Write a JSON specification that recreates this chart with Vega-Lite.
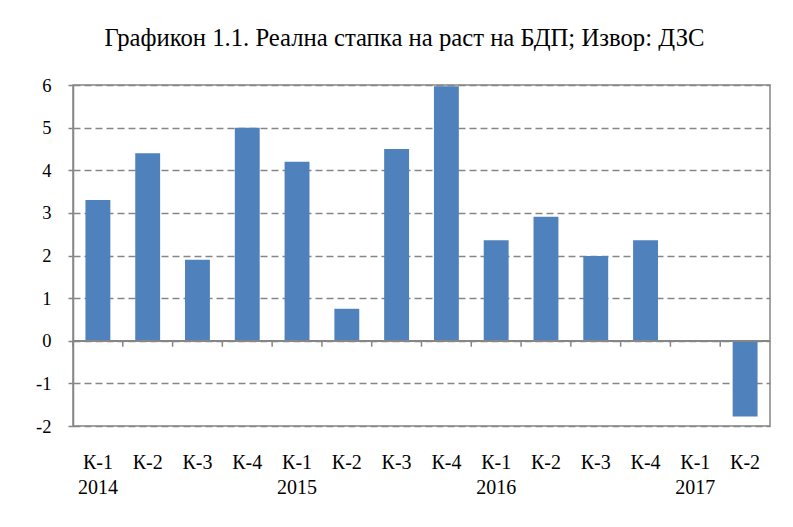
{
  "$schema": "https://vega.github.io/schema/vega-lite/v6.json",
  "autosize": "none",
  "width": 697,
  "height": 341,
  "padding": {"left": 73, "top": 85, "right": 23, "bottom": 101},
  "background": "white",
  "title": {
    "text": "Графикон 1.1. Реална стапка на раст на БДП; Извор: ДЗС",
    "font": "Liberation Serif",
    "fontSize": 24.7,
    "fontWeight": "normal",
    "color": "black",
    "anchor": "middle",
    "dx": -17,
    "offset": 25
  },
  "data": {
    "values": [
      {"id": "2014 К-1", "v": 3.3},
      {"id": "2014 К-2", "v": 4.4},
      {"id": "2014 К-3", "v": 1.9},
      {"id": "2014 К-4", "v": 5.0},
      {"id": "2015 К-1", "v": 4.2},
      {"id": "2015 К-2", "v": 0.75},
      {"id": "2015 К-3", "v": 4.5},
      {"id": "2015 К-4", "v": 5.97},
      {"id": "2016 К-1", "v": 2.36},
      {"id": "2016 К-2", "v": 2.91},
      {"id": "2016 К-3", "v": 1.99},
      {"id": "2016 К-4", "v": 2.36},
      {"id": "2017 К-1", "v": 0},
      {"id": "2017 К-2", "v": -1.78}
    ]
  },
  "layer": [
    {
      "mark": {"type": "bar", "color": "#4f81bd"},
      "encoding": {
        "x": {
          "field": "id",
          "type": "nominal",
          "sort": null,
          "scale": {"paddingInner": 0.5, "paddingOuter": 0.25},
          "axis": {
            "title": null,
            "orient": "bottom",
            "labelAngle": 0,
            "labelExpr": "slice(datum.value,5)=='К-1' ? ['К-1', slice(datum.value,0,4)] : slice(datum.value,5)",
            "labelFont": "Liberation Serif",
            "labelFontSize": 20,
            "labelColor": "black",
            "labelBaseline": "top",
            "labelLineHeight": 25,
            "labelPadding": 26,
            "domain": false,
            "ticks": false,
            "grid": false
          }
        },
        "y": {
          "field": "v",
          "type": "quantitative",
          "scale": {"domain": [-2, 6], "nice": false, "zero": false},
          "axis": {
            "title": null,
            "orient": "left",
            "values": [-2, -1, 0, 1, 2, 3, 4, 5, 6],
            "labelExpr": "toString(datum.value)",
            "labelFont": "Liberation Serif",
            "labelFontSize": 18.5,
            "labelColor": "black",
            "labelPadding": 17,
            "domainColor": "#868686",
            "domainWidth": 1.5,
            "tickColor": "#868686",
            "tickWidth": 1.5,
            "tickSize": 5,
            "grid": true,
            "gridColor": "#868686",
            "gridWidth": 1.5,
            "gridDash": [7, 4]
          }
        }
      }
    },
    {
      "mark": {"type": "rule", "color": "#868686", "strokeWidth": 1.5},
      "encoding": {
        "y": {"datum": 0, "type": "quantitative"}
      }
    },
    {
      "mark": {"type": "rule", "color": "#868686", "strokeWidth": 1.5},
      "encoding": {
        "x": {"field": "id", "type": "nominal", "sort": null, "bandPosition": -0.5},
        "y": {"datum": 0, "type": "quantitative"},
        "y2": {"datum": -0.14}
      }
    }
  ],
  "config": {
    "view": {"stroke": "#868686", "strokeWidth": 1.5}
  }
}
